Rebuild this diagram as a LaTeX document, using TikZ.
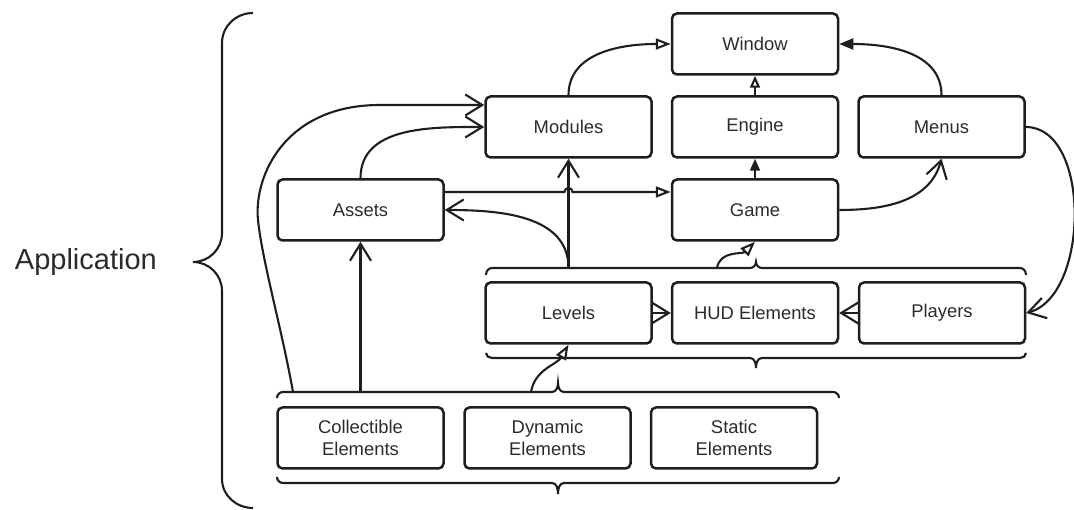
\documentclass[tikz,border=0pt]{standalone}
\usepackage{fontspec}
\setmainfont{Liberation Sans}
\usetikzlibrary{arrows.meta}
\definecolor{ink}{HTML}{1E1E1E}
\definecolor{txt}{HTML}{2B2B2B}

\begin{document}
\begin{tikzpicture}[x=1pt,y=1pt,
  box/.style={draw=ink, line width=2.5pt, rounded corners=5pt,
    minimum width=166pt, minimum height=61pt, inner sep=0pt,
    align=center, text=txt, font=\fontsize{18.4}{22}\selectfont},
  link/.style={draw=ink, line width=2.1pt},
  vee/.style={-{Straight Barb[length=17pt,width=21pt]}},
  opentri/.style={-{Triangle[open,length=15pt,width=11pt]}},
  solidtri/.style={-{Triangle[length=14pt,width=11pt]}},
  brace/.style={draw=ink, line width=2.1pt},
]
\useasboundingbox (0,0) rectangle (1074,510);

% component boxes
\node[box] (window)  at (755,466)   {Window};
\node[box] (modules) at (568.5,383) {Modules};
\node[box] (engine)  at (755,383)   {Engine};
\node[box] (menus)   at (941.5,383) {Menus};
\node[box] (assets)  at (360.5,300) {Assets};
\node[box] (game)    at (755,300)   {Game};
\node[box] (levels)  at (568.5,197) {Levels};
\node[box] (hud)     at (755,197)   {HUD Elements};
\node[box] (players) at (942,197)   {Players};
\node[box] (collect) at (360.5,72)  {Collectible\\Elements};
\node[box] (dynamic) at (547.5,72)  {Dynamic\\Elements};
\node[box] (static)  at (734,72)    {Static\\Elements};

\node[text=txt, font=\fontsize{29}{34}\selectfont, anchor=base east, inner sep=0pt]
  (app) at (157,240) {Application};

% outer brace grouping the whole application
\draw[brace] (253,497) to[out=180,in=90] (222,467) -- (222,277)
  to[out=-90,in=0] (193,248) to[out=0,in=90] (222,219) -- (222,31)
  to[out=-90,in=180] (253,2);

% brace above the level row
\draw[brace] (486,235) to[out=90,in=180] (492,242) -- (750,242)
  to[out=0,in=-90] (756,248) to[out=-90,in=180] (762,242) -- (1020,242)
  to[out=0,in=90] (1026,235);
% brace below the level row
\draw[brace] (486,157) to[out=-90,in=180] (492,152) -- (750,152)
  to[out=0,in=90] (756,142) to[out=90,in=180] (762,152) -- (1020,152)
  to[out=0,in=-90] (1026,157);
% brace above the element row
\draw[brace] (277,112) to[out=90,in=180] (283,118) -- (552,118)
  to[out=0,in=-90] (558,127) to[out=-90,in=180] (564,118) -- (833,118)
  to[out=0,in=90] (839,112);
% brace below the element row
\draw[brace] (277,33) to[out=-90,in=180] (283,27) -- (552,27)
  to[out=0,in=90] (558,16) to[out=90,in=180] (564,27) -- (833,27)
  to[out=0,in=-90] (839,33);

% attachment points on the braces
\coordinate (lvA) at (568.5,242);
\coordinate (lvG) at (717,242);
\coordinate (elC) at (293,118);
\coordinate (elA) at (360.5,118);
\coordinate (elL) at (531,118);
\coordinate (hopA) at (564.5,318);

% connectors
\draw[link,opentri] (modules.north) to[out=90,in=180] (window.west);
\draw[link,-{Triangle[open,length=12pt,width=10pt]}] (engine.north) -- (window.south);
\draw[link,solidtri] (menus.north) to[out=90,in=0] (window.east);
\draw[link,-{Triangle[length=12pt,width=10pt]}] (game.north) -- (engine.south);
\draw[link,vee] (game.east) to[out=0,in=-105] (menus.south);
\draw[link,vee] (menus.east) to[out=0,in=15,looseness=0.9] (players.east);
\draw[link,vee] (players.west) -- (hud.east);
\draw[link,vee] (levels.east) -- (hud.west);

\draw[link,opentri] ([yshift=18pt]assets.east) -- (hopA)
  arc[start angle=180,end angle=0,radius=4pt] -- ([yshift=18pt]game.west);

\draw[link,vee] (lvA) -- (modules.south);
\draw[link,vee] (lvA) to[out=90,in=0] (assets.east);
\draw[link,opentri] (lvG) to[out=80,in=-135] (game.south);

\draw[link,vee] (elA) -- (assets.south);
\draw[link,opentri] (elL) to[out=80,in=-120] (levels.south);
\draw[link,vee] (elC) .. controls (282,180) and (262,250) .. (258,290)
  .. controls (253.6,334) and (285,405) .. (380,405)
  -- ([yshift=22pt]modules.west);
\draw[link,vee] (assets.north) to[out=90,in=180] (modules.west);
\end{tikzpicture}
\end{document}
